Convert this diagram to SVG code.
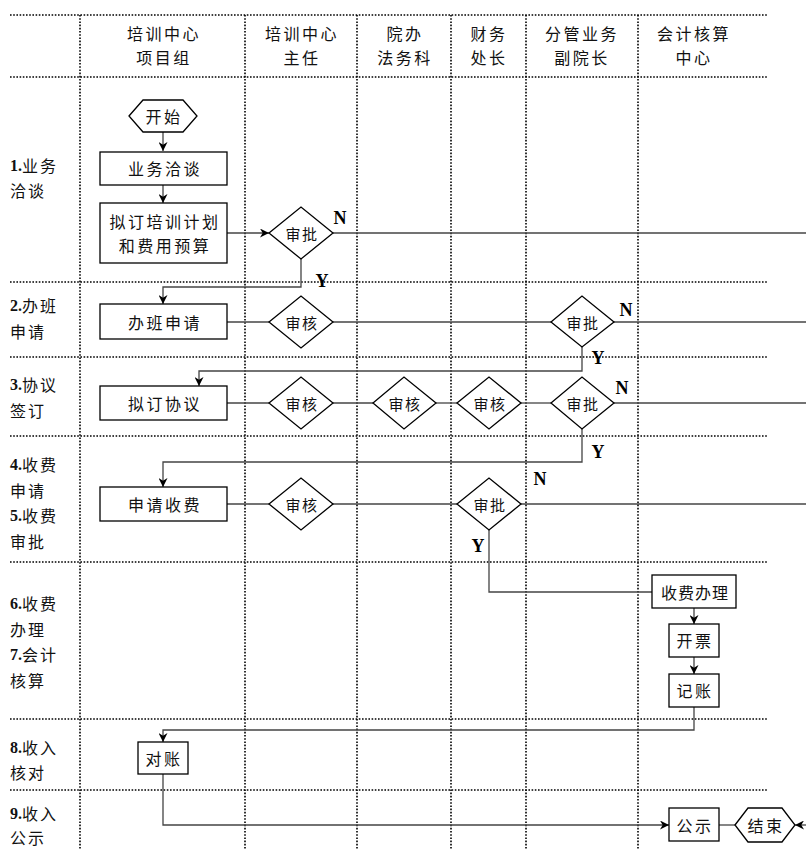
<svg xmlns="http://www.w3.org/2000/svg" width="806" height="850" viewBox="0 0 806 850">
<defs>
<marker id="arr" viewBox="0 0 10 10" refX="10" refY="5" markerWidth="9" markerHeight="9" markerUnits="userSpaceOnUse" orient="auto">
<path d="M0,0 L10,5 L0,10 L3,5 z" fill="#000"/>
</marker>
<style>
.grid{stroke:#000;stroke-width:1.6;stroke-dasharray:1.6 1.6;fill:none}
.box{fill:#fff;stroke:#000;stroke-width:1.3}
.con{fill:none;stroke:#444;stroke-width:1.3}
.t{font-family:"Noto Sans CJK SC","Noto Sans",sans-serif;font-size:16px;fill:#111;text-anchor:middle;dominant-baseline:central;letter-spacing:2.5px}
.d{font-size:15px;letter-spacing:1.5px}
.lab{font-family:"Noto Sans CJK SC","Noto Sans",sans-serif;font-size:16px;fill:#111;dominant-baseline:central;letter-spacing:2px}
.num{font-family:"Liberation Serif",serif;font-weight:bold;letter-spacing:0}
.yn{font-family:"Liberation Serif",serif;font-weight:bold;font-size:18px;fill:#000;text-anchor:middle;dominant-baseline:central}
</style>
</defs>
<rect width="806" height="850" fill="#fff"/>
<g id="grid">
<line class="grid" x1="10" y1="15" x2="768" y2="15"/>
<line class="grid" x1="10" y1="77" x2="768" y2="77"/>
<line class="grid" x1="10" y1="282" x2="768" y2="282"/>
<line class="grid" x1="10" y1="357" x2="768" y2="357"/>
<line class="grid" x1="10" y1="436" x2="768" y2="436"/>
<line class="grid" x1="10" y1="562" x2="768" y2="562"/>
<line class="grid" x1="10" y1="719" x2="768" y2="719"/>
<line class="grid" x1="10" y1="790" x2="768" y2="790"/>
<line class="grid" x1="80" y1="15" x2="80" y2="850"/>
<line class="grid" x1="245" y1="15" x2="245" y2="850"/>
<line class="grid" x1="357" y1="15" x2="357" y2="850"/>
<line class="grid" x1="451" y1="15" x2="451" y2="850"/>
<line class="grid" x1="526" y1="15" x2="526" y2="850"/>
<line class="grid" x1="638" y1="15" x2="638" y2="850"/>
</g>
<g id="headers">
<text class="t" x="164" y="33">培训中心</text><text class="t" x="164" y="57">项目组</text>
<text class="t" x="302" y="33">培训中心</text><text class="t" x="302" y="57">主任</text>
<text class="t" x="405" y="33">院办</text><text class="t" x="405" y="57">法务科</text>
<text class="t" x="489" y="33">财务</text><text class="t" x="489" y="57">处长</text>
<text class="t" x="582" y="33">分管业务</text><text class="t" x="582" y="57">副院长</text>
<text class="t" x="694" y="33">会计核算</text><text class="t" x="694" y="57">中心</text>
</g>
<g id="stages">
<text class="lab" x="10" y="165"><tspan class="num">1.</tspan>业务</text><text class="lab" x="10" y="190">洽谈</text>
<text class="lab" x="10" y="305"><tspan class="num">2.</tspan>办班</text><text class="lab" x="10" y="331">申请</text>
<text class="lab" x="10" y="384"><tspan class="num">3.</tspan>协议</text><text class="lab" x="10" y="410">签订</text>
<text class="lab" x="10" y="464"><tspan class="num">4.</tspan>收费</text><text class="lab" x="10" y="490">申请</text>
<text class="lab" x="10" y="515"><tspan class="num">5.</tspan>收费</text><text class="lab" x="10" y="541">审批</text>
<text class="lab" x="10" y="603"><tspan class="num">6.</tspan>收费</text><text class="lab" x="10" y="629">办理</text>
<text class="lab" x="10" y="654"><tspan class="num">7.</tspan>会计</text><text class="lab" x="10" y="680">核算</text>
<text class="lab" x="10" y="747"><tspan class="num">8.</tspan>收入</text><text class="lab" x="10" y="772">核对</text>
<text class="lab" x="10" y="813"><tspan class="num">9.</tspan>收入</text><text class="lab" x="10" y="837">公示</text>
</g>
<g id="connectors">
<line class="con" x1="163" y1="132" x2="163" y2="151" marker-end="url(#arr)"/>
<line class="con" x1="163" y1="185" x2="163" y2="203" marker-end="url(#arr)"/>
<line class="con" x1="227" y1="233" x2="269" y2="233" marker-end="url(#arr)"/>
<line class="con" x1="333" y1="233" x2="806" y2="233"/>
<polyline class="con" points="301,259 301,287 163,287 163,304" marker-end="url(#arr)"/>
<line class="con" x1="227" y1="322" x2="269" y2="322"/>
<line class="con" x1="333" y1="322" x2="551" y2="322"/>
<line class="con" x1="614" y1="322" x2="806" y2="322"/>
<polyline class="con" points="582,347 582,371 199,371 199,386" marker-end="url(#arr)"/>
<line class="con" x1="227" y1="403" x2="269" y2="403"/>
<line class="con" x1="333" y1="403" x2="373" y2="403"/>
<line class="con" x1="436" y1="403" x2="457" y2="403"/>
<line class="con" x1="521" y1="403" x2="551" y2="403"/>
<line class="con" x1="614" y1="403" x2="806" y2="403"/>
<polyline class="con" points="582,429 582,462 163,462 163,487" marker-end="url(#arr)"/>
<line class="con" x1="227" y1="504" x2="269" y2="504"/>
<line class="con" x1="333" y1="504" x2="457" y2="504"/>
<line class="con" x1="521" y1="504" x2="806" y2="504"/>
<polyline class="con" points="489,530 489,592 652,592"/>
<line class="con" x1="694" y1="608" x2="694" y2="624" marker-end="url(#arr)"/>
<line class="con" x1="694" y1="657" x2="694" y2="674" marker-end="url(#arr)"/>
<polyline class="con" points="694,707 694,730 163,730 163,742" marker-end="url(#arr)"/>
<polyline class="con" points="163,774 163,825 669,825" marker-end="url(#arr)"/>
<line class="con" x1="719" y1="825" x2="735" y2="825"/>
<line class="con" x1="806" y1="825" x2="795" y2="825" marker-end="url(#arr)"/>
</g>
<g id="yn">
<text class="yn" x="340" y="218">N</text>
<text class="yn" x="322" y="281">Y</text>
<text class="yn" x="626" y="310">N</text>
<text class="yn" x="598" y="358">Y</text>
<text class="yn" x="622" y="388">N</text>
<text class="yn" x="598" y="452">Y</text>
<text class="yn" x="540" y="479">N</text>
<text class="yn" x="478" y="546">Y</text>
</g>
<g id="start"><polygon class="box" points="129,116 143,100 183,100 197,116 183,132 143,132"/><text class="t" x="164" y="116">开始</text></g>
<g id="n-tanxun"><rect class="box" x="100" y="152" width="127" height="33"/><text class="t" x="165" y="168">业务洽谈</text></g>
<g id="n-jihua"><rect class="box" x="100" y="203" width="127" height="60"/><text class="t" x="165" y="221">拟订培训计划</text><text class="t" x="165" y="245">和费用预算</text></g>
<g id="d-shenpi1"><polygon class="box" points="269,233 301,207 333,233 301,259"/><text class="t d" x="302" y="233">审批</text></g>
<g id="n-banban"><rect class="box" x="100" y="304" width="127" height="35"/><text class="t" x="165" y="322">办班申请</text></g>
<g id="d-shenhe2"><polygon class="box" points="269,322 301,296 333,322 301,348"/><text class="t d" x="302" y="322">审核</text></g>
<g id="d-shenpi2"><polygon class="box" points="551,322 582,296 614,322 582,347"/><text class="t d" x="583" y="322">审批</text></g>
<g id="n-xieyi"><rect class="box" x="100" y="386" width="127" height="34"/><text class="t" x="165" y="403">拟订协议</text></g>
<g id="d-shenhe3a"><polygon class="box" points="269,403 301,377 333,403 301,429"/><text class="t d" x="302" y="403">审核</text></g>
<g id="d-shenhe3b"><polygon class="box" points="373,403 404,377 436,403 404,429"/><text class="t d" x="405" y="403">审核</text></g>
<g id="d-shenhe3c"><polygon class="box" points="457,403 489,377 521,403 489,429"/><text class="t d" x="490" y="403">审核</text></g>
<g id="d-shenpi3"><polygon class="box" points="551,403 582,377 614,403 582,429"/><text class="t d" x="583" y="403">审批</text></g>
<g id="n-shoufei"><rect class="box" x="100" y="487" width="127" height="34"/><text class="t" x="165" y="504">申请收费</text></g>
<g id="d-shenhe4"><polygon class="box" points="269,504 301,478 333,504 301,530"/><text class="t d" x="302" y="504">审核</text></g>
<g id="d-shenpi5"><polygon class="box" points="457,504 489,478 521,504 489,530"/><text class="t d" x="490" y="504">审批</text></g>
<g id="n-banli"><rect class="box" x="652" y="575" width="84" height="33"/><text class="t" x="695" y="592" style="letter-spacing:1px">收费办理</text></g>
<g id="n-kaipiao"><rect class="box" x="669" y="624" width="50" height="33"/><text class="t" x="695" y="640">开票</text></g>
<g id="n-jizhang"><rect class="box" x="669" y="674" width="50" height="33"/><text class="t" x="695" y="690">记账</text></g>
<g id="n-duizhang"><rect class="box" x="138" y="742" width="50" height="32"/><text class="t" x="164" y="758">对账</text></g>
<g id="n-gongshi"><rect class="box" x="669" y="808" width="50" height="33"/><text class="t" x="695" y="825">公示</text></g>
<g id="end"><polygon class="box" points="735,825 748,808 782,808 795,825 782,842 748,842"/><text class="t" x="766" y="825">结束</text></g>
</svg>
